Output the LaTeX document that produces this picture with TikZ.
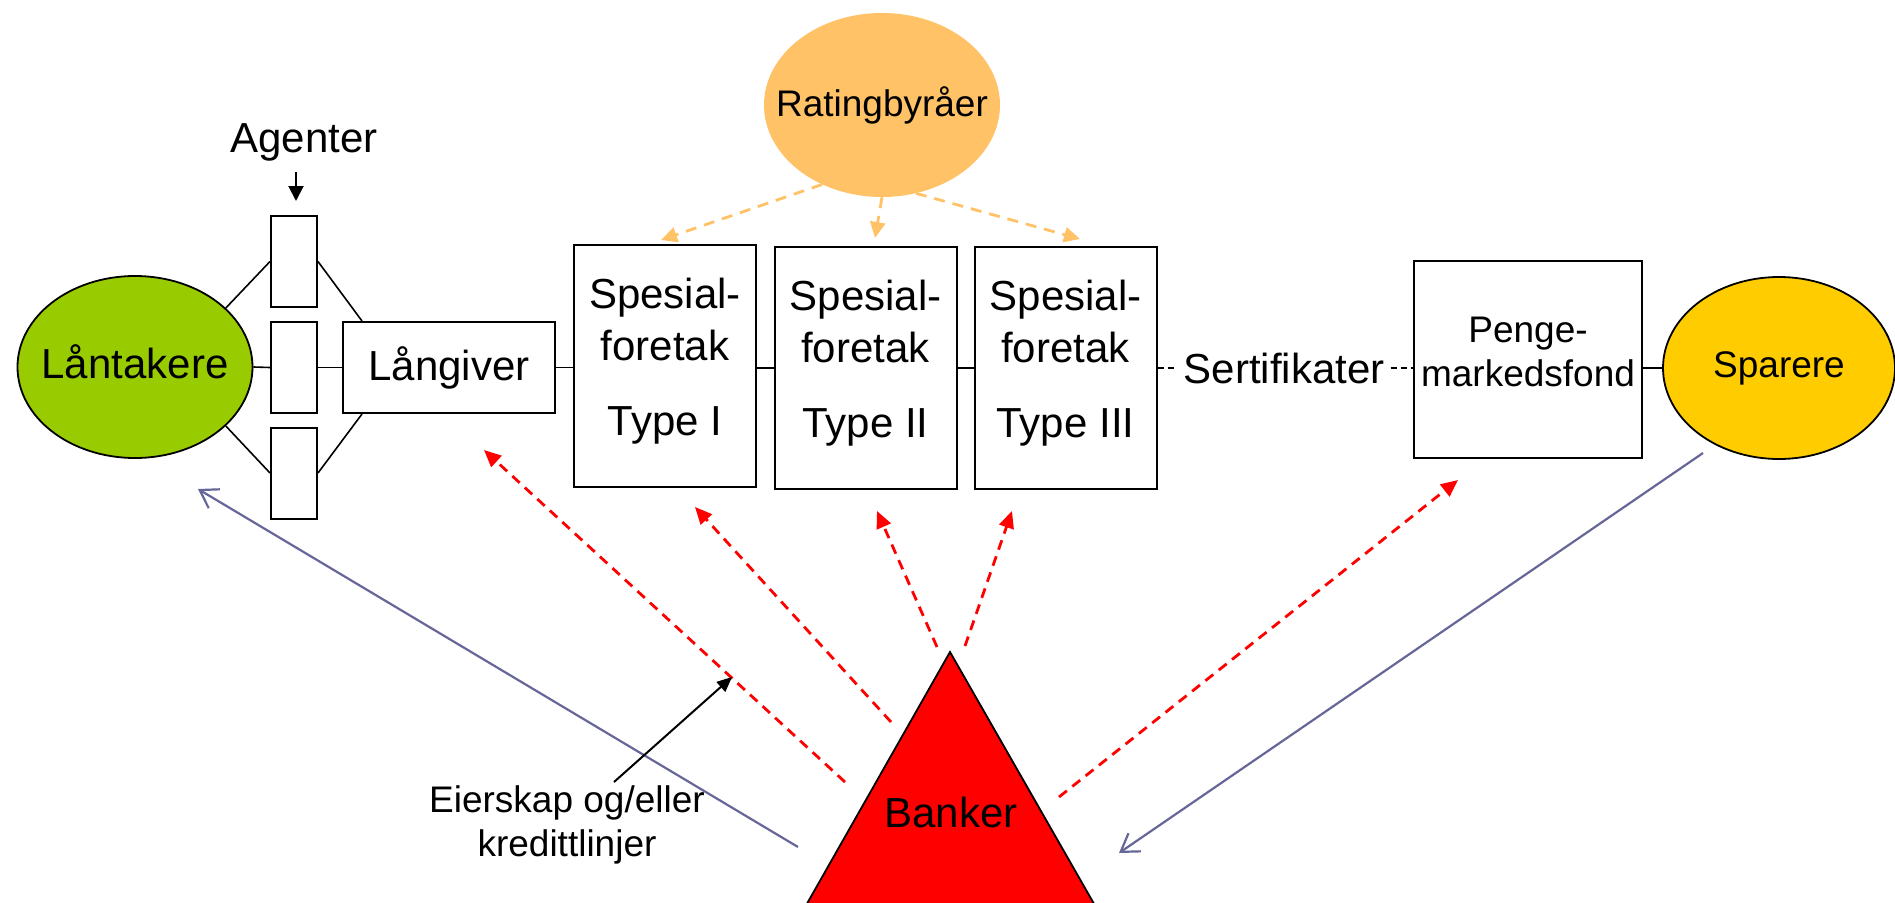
\documentclass[tikz,border=0pt]{standalone}
\usepackage{fontspec}
\setmainfont{Liberation Sans}
\usetikzlibrary{arrows.meta,shapes.geometric}

\definecolor{lgreen}{HTML}{99CC00}
\definecolor{rorange}{HTML}{FFC266}
\definecolor{syellow}{HTML}{FFCC00}
\definecolor{flowblue}{HTML}{666699}

\begin{document}
\begin{tikzpicture}[x=1pt,y=-1pt,
  box/.style={draw=black,line width=2pt,fill=white,inner sep=0pt,align=center},
  party/.style={ellipse,draw=black,line width=1.8pt,inner sep=0pt},
  link/.style={line width=1.6pt},
  tie/.style={line width=1.2pt,dash pattern=on 6pt off 4pt},
  rated/.style={draw=rorange,line width=2.8pt,dash pattern=on 11pt off 8pt,-{Triangle[length=16pt,width=15pt]}},
  backing/.style={draw=red,line width=2.8pt,dash pattern=on 10pt off 7pt,-{Triangle[length=17pt,width=15pt]}},
  flow/.style={draw=flowblue,line width=2.2pt,-{Straight Barb[length=17pt,width=22pt]}},
  pointer/.style={line width=2pt,-{Triangle[length=15pt,width=13pt]}},
  big/.style={font=\fontsize{42}{52}\selectfont},
  mid/.style={font=\fontsize{37}{44}\selectfont},
]
\useasboundingbox (0,0) rectangle (1895,902);

% borrowers, agents and lender
\node[party,fill=lgreen,minimum width=235pt,minimum height=182pt] (lan) at (135,367) {};
\node[big,text depth=10pt] (lantxt) at (lan.center) {Låntakere};
\node[box,minimum width=46pt,minimum height=91pt] (a1) at (294,261.5) {};
\node[box,minimum width=46pt,minimum height=91pt] (a2) at (294,367.5) {};
\node[box,minimum width=46pt,minimum height=91pt] (a3) at (294,473) {};
\node[big,anchor=base] (agt) at (304,152) {Agenter};
\node[box,minimum width=212pt,minimum height=91pt,big] (lang) at (449,367.5) {Långiver};

% special purpose vehicles
\node[box,minimum width=182pt,minimum height=242pt,big,text depth=19pt] (s1) at (665,366) {Spesial-\\foretak\\[23pt]Type I};
\node[box,minimum width=182pt,minimum height=242pt,big,text depth=19pt] (s2) at (865.5,368) {Spesial-\\foretak\\[23pt]Type II};
\node[box,minimum width=182pt,minimum height=242pt,big,text depth=19pt] (s3) at (1065.5,368) {Spesial-\\foretak\\[23pt]Type III};

% certificates, money market funds and savers
\node[big,inner sep=6pt] (sert) at (1284,368) {Sertifikater};
\node[box,minimum width=228pt,minimum height=197pt,mid,text depth=16pt] (penge) at (1528,359.5) {Penge-\\markedsfond};
\node[party,fill=syellow,minimum width=232pt,minimum height=182pt] (spa) at (1779,368) {};
\node[mid] (spatxt) at (spa.center) {Sparere};

% rating agencies
\node[ellipse,fill=rorange,minimum width=236pt,minimum height=184pt,inner sep=0pt] (rat) at (882,105) {};
\node[mid] (rattxt) at (rat.center) {Ratingbyråer};

% banks
\begin{scope}
  \clip (0,0) rectangle (1895,902);
  \filldraw[fill=red,draw=black,line width=1.8pt] (950,652) -- (792,930) -- (1109,930) -- cycle;
\end{scope}
\node[big] (bank) at (951,812) {Banker};
\node[mid,align=center] (eier) at (567,825) {Eierskap og/eller\\kredittlinjer};

% free ends of connectors
\coordinate (agtop) at (296,172);
\coordinate (agtip) at (296,201);
\coordinate (r1) at (661,240);
\coordinate (r2) at (875,238);
\coordinate (r3) at (1080,239);
\coordinate (b1) at (845,782);  \coordinate (t1) at (484,450);
\coordinate (b2) at (891,722);  \coordinate (t2) at (695,507);
\coordinate (b3) at (937,647);  \coordinate (t3) at (877,511);
\coordinate (b4) at (965,646);  \coordinate (t4) at (1012,511);
\coordinate (b5) at (1059,797); \coordinate (t5) at (1458,480);
\coordinate (f1s) at (798,847); \coordinate (f1e) at (198,489);
\coordinate (f2s) at (1703,453); \coordinate (f2e) at (1119,853);
\coordinate (eierfoot) at (614,782); \coordinate (eiertip) at (732,677);

% chain of links
\draw[pointer,-{Triangle[length=15pt,width=15pt]}] (agtop) -- (agtip);
\draw[link] (lan.33) -- (a1.west);
\draw[link] (a1.east) -- ([xshift=20pt]lang.north west);
\draw[link] (lan.east) -- (a2.west);
\draw[link] (a2.east) -- (lang.west);
\draw[link] (lan.-33) -- (a3.west);
\draw[link] (a3.east) -- ([xshift=20pt]lang.south west);
\draw[link] (lang.east) -- (lang.east -| s1.west);
\draw[link] (s1.east |- s2.west) -- (s2.west);
\draw[link] (s2.east) -- (s3.west);
\draw[tie] (s3.east) -- (sert.west);
\draw[tie] (sert.east) -- (sert.east -| penge.west);
\draw[link] (penge.east |- spa.west) -- (spa.west);

% ratings
\draw[rated] (rat.233) -- (r1);
\draw[rated] (rat.-90) -- (r2);
\draw[rated] (rat.-69) -- (r3);

% bank support
\draw[backing] (b1) -- (t1);
\draw[backing] (b2) -- (t2);
\draw[backing] (b3) -- (t3);
\draw[backing] (b4) -- (t4);
\draw[backing] (b5) -- (t5);

% funds flow
\draw[flow] (f1s) -- (f1e);
\draw[flow] (f2s) -- (f2e);

\draw[pointer] (eierfoot) -- (eiertip);
\end{tikzpicture}
\end{document}
